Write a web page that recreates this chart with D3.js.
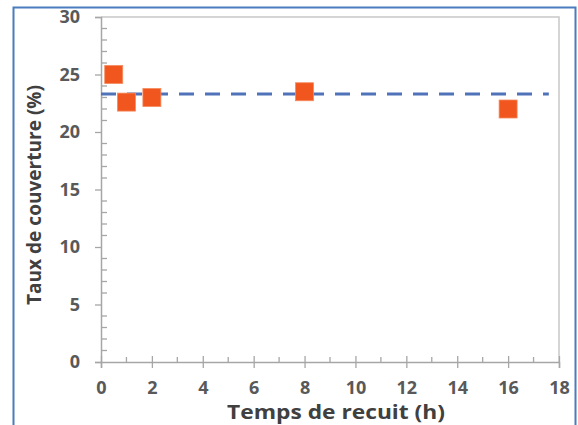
<!DOCTYPE html>
<html><head><meta charset="utf-8">
<script src="https://cdn.jsdelivr.net/npm/d3@7"></script>
<style>body{margin:0;background:#fff}svg{display:block}</style>
</head><body>
<script>
const xValues = [0.5, 1, 2, 8, 16];
const yValues = [25, 22.6, 23, 23.5, 22];
const meanLine = [23.3];
const xTicks = [0, 2, 4, 6, 8, 10, 12, 14, 16, 18];
const yTicks = [0, 5, 10, 15, 20, 25, 30];
const xTitle = "Temps de recuit (h)";
const yTitle = "Taux de couverture (%)";

const W = 578, H = 425;
const svg = d3.select("body").append("svg").attr("width", W).attr("height", H);
const font = "'Open Sans', sans-serif";
const L = 101, R = 559, T = 17, B = 362;
const x = d3.scaleLinear().domain([0, 18]).range([L, R]);
const y = d3.scaleLinear().domain([0, 30]).range([B, T]);
const axisColor = "#a6a6a6";

// outer frame
svg.append("path").attr("d", `M13.5,${H+2} V7.5 H575.5 V${H+2}`)
  .attr("fill", "none").attr("stroke", "#4a7cc0").attr("stroke-width", 2);

// top and right border of plot
svg.append("path").attr("d", `M${L},${T} H${R} V${B}`).attr("fill", "none")
  .attr("stroke", "#c8c8c8").attr("stroke-width", 1.5);

// minor ticks
const gMinor = svg.append("g");
d3.range(1, 18, 2).forEach(v => {
  gMinor.append("line").attr("x1", x(v)).attr("x2", x(v)).attr("y1", B - 5).attr("y2", B)
    .attr("stroke", axisColor).attr("stroke-width", 1.3);
});
d3.range(0, 31).filter(v => v % 5 !== 0).forEach(v => {
  gMinor.append("line").attr("x1", L).attr("x2", L + 6).attr("y1", y(v)).attr("y2", y(v))
    .attr("stroke", axisColor).attr("stroke-width", 1.3);
});

// x axis
const xa = svg.append("g").attr("transform", `translate(0,${B})`)
  .call(d3.axisBottom(x).tickValues(xTicks).tickSize(6).tickPadding(13).tickFormat(d3.format("d")));
xa.select(".domain").attr("stroke", axisColor).attr("stroke-width", 1.5);
xa.selectAll(".tick line").attr("stroke", axisColor).attr("stroke-width", 1.3).attr("y1", -6);
xa.selectAll("text").attr("font-family", font).attr("font-weight", "bold")
  .attr("font-size", 18).attr("fill", "#595959");

// y axis
const ya = svg.append("g").attr("transform", `translate(${L},0)`)
  .call(d3.axisLeft(y).tickValues(yTicks).tickSize(6).tickPadding(15).tickFormat(d3.format("d")));
ya.select(".domain").attr("stroke", axisColor).attr("stroke-width", 1.5);
ya.selectAll(".tick line").attr("stroke", axisColor).attr("stroke-width", 1.3).attr("x2", -6);
ya.selectAll("text").attr("font-family", font).attr("font-weight", "bold")
  .attr("font-size", 18).attr("fill", "#595959");

// dashed mean line
svg.append("line").attr("x1", x(0)).attr("x2", x(17.6)).attr("y1", y(meanLine[0])).attr("y2", y(meanLine[0]))
  .attr("stroke", "#4f72b8").attr("stroke-width", 3).attr("stroke-dasharray", "15,11");

// markers
const s = 18;
svg.append("g").selectAll("rect").data(xValues.map((d, i) => [d, yValues[i]])).join("rect")
  .attr("x", d => x(d[0]) - s / 2).attr("y", d => y(d[1]) - s / 2)
  .attr("width", s).attr("height", s)
  .attr("fill", "#f0561e").attr("stroke", "#f58a5e").attr("stroke-width", 0.8);

// titles
const tx = svg.append("text").attr("x", 336).attr("y", 419).attr("text-anchor", "middle")
  .attr("font-family", font).attr("font-weight", "bold").attr("font-size", 19).attr("fill", "#404040")
  .text(xTitle);
const ty = svg.append("text").attr("transform", `translate(41,195) rotate(-90)`).attr("text-anchor", "middle")
  .attr("font-family", font).attr("font-weight", "bold").attr("font-size", 19).attr("fill", "#404040")
  .text(yTitle);
tx.attr("textLength", 218).attr("lengthAdjust", "spacingAndGlyphs");
ty.attr("textLength", 220).attr("lengthAdjust", "spacingAndGlyphs");
</script>
</body></html>
